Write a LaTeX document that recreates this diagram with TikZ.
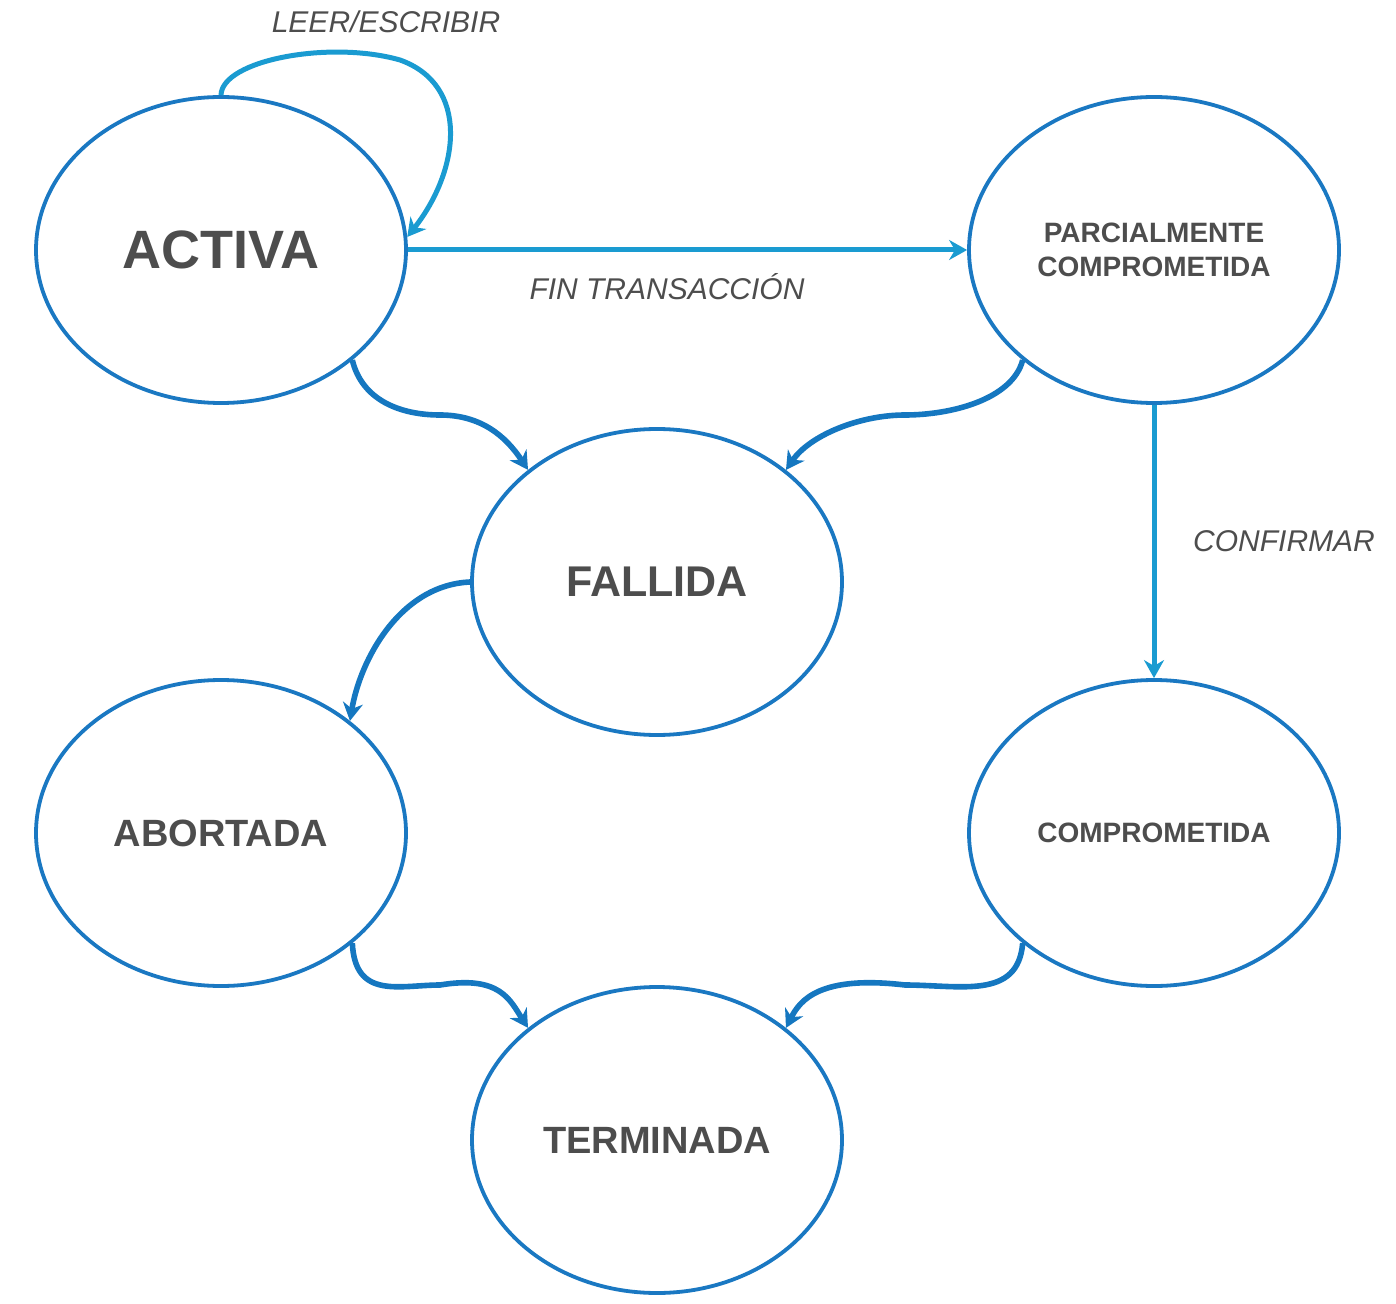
\documentclass[tikz,border=0pt]{standalone}
\usepackage{fontspec}
\setmainfont{Liberation Sans}
\usetikzlibrary{shapes.geometric,arrows.meta}
\definecolor{ell}{HTML}{1A78C2}
\definecolor{arr}{HTML}{1577C0}
\definecolor{lite}{HTML}{1A9BD1}
\definecolor{txt}{HTML}{4D4D4D}
\begin{document}
\begin{tikzpicture}[x=0.5pt,y=-0.5pt,
  st/.style={ellipse,draw=ell,line width=1.9pt,minimum width=185pt,minimum height=153pt,inner sep=0pt,text=txt,font=\bfseries,align=center},
  ar/.style={draw=arr,line width=2.8pt,-{Stealth[length=9pt,width=10pt]}},
  la/.style={draw=lite,line width=2.5pt,-{Stealth[length=9pt,width=10pt]}},
  lab/.style={text=txt,font=\itshape\fontsize{15}{17}\selectfont}]
\useasboundingbox (0,0) rectangle (1396,1304);
\node[st,font=\bfseries\fontsize{27}{30}\selectfont] (act) at (221,250) {ACTIVA};
\node[st,font=\bfseries\fontsize{14}{17}\selectfont] (par) at (1154,250) {PARCIALMENTE\\COMPROMETIDA};
\node[st,font=\bfseries\fontsize{21.5}{24}\selectfont] (fal) at (657,582) {FALLIDA};
\node[st,font=\bfseries\fontsize{19}{22}\selectfont] (abo) at (221,833) {ABORTADA};
\node[st,font=\bfseries\fontsize{14}{17}\selectfont] (com) at (1154,833) {COMPROMETIDA};
\node[st,font=\bfseries\fontsize{19}{22}\selectfont] (ter) at (657,1140) {TERMINADA};
\draw[la] (act.90) .. controls (222,60) and (330,40) .. (400,60) .. controls (470,85) and (460,170) .. (act.4);
\node[lab] (l1) at (386,22) {LEER/ESCRIBIR};
\draw[la] (act.0) -- (par.180);
\node[lab] (l2) at (667,287) {FIN TRANSACCIÓN};
\draw[la] (par.-90) -- (com.90);
\node[lab] (l3) at (1284,541) {CONFIRMAR};
\draw[ar] (act.-40) .. controls (362,400) and (400,415) .. (440,415) .. controls (480,415) and (505,435) .. (fal.139);
\draw[ar] (par.-140) .. controls (1012,400) and (950,415) .. (905,415) .. controls (860,415) and (810,435) .. (fal.41);
\draw[ar] (fal.180) .. controls (400,585) and (360,660) .. (abo.41);
\draw[ar] (abo.-40) .. controls (355,1000) and (400,985) .. (440,985) .. controls (500,975) and (510,1000) .. (ter.139);
\draw[ar] (com.-140) .. controls (1018,1000) and (960,985) .. (905,985) .. controls (820,975) and (800,1000) .. (ter.41);
\end{tikzpicture}
\end{document}
